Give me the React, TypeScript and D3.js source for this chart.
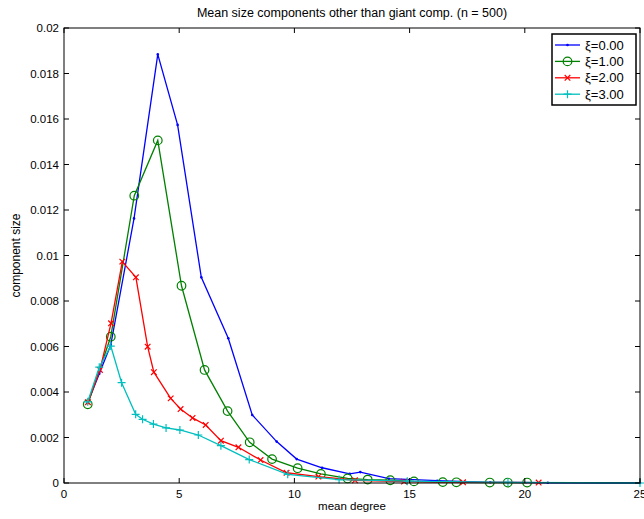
import React, { useEffect, useRef } from 'react';
import * as d3 from 'd3';

// mean degree (x) and component size (y)
const xi0X = [1.03, 1.53, 2.03, 3.04, 4.07, 4.93, 5.96, 7.13, 8.17, 9.23, 10.1, 11.2, 12.4, 12.86, 14.1, 16.2, 18.5, 21, 25];
const xi0Y = [0.00353, 0.0048, 0.00607, 0.01163, 0.01884, 0.01574, 0.00904, 0.00636, 0.00299, 0.00182, 0.00105, 0.00067, 0.0004, 0.00048, 0.00019, 0.0001, 0.00003, 0.00001, 0];

const xi1X = [1.03, 2.03, 3.05, 4.07, 5.1, 6.1, 7.1, 8.06, 9.03, 10.14, 11.15, 12.31, 13.18, 14.16, 15.19, 16.44, 17.03, 18.48, 19.26, 20.1];
const xi1Y = [0.00346, 0.00643, 0.01263, 0.01506, 0.00867, 0.00497, 0.00316, 0.00179, 0.00105, 0.00065, 0.0004, 0.0002, 0.00015, 0.00012, 0.00007, 0.00004, 0.00003, 0.00002, 0.00002, 0.00002];

const xi2X = [1.04, 1.56, 2.04, 2.53, 3.12, 3.63, 3.9, 4.63, 5.06, 5.58, 6.15, 6.81, 7.57, 8.53, 9.66, 11.04, 12.63, 14.76, 17.32, 20.6];
const xi2Y = [0.00355, 0.00497, 0.00702, 0.00973, 0.00904, 0.00599, 0.00487, 0.00372, 0.00325, 0.00286, 0.00255, 0.00186, 0.00157, 0.00101, 0.00045, 0.00028, 0.00012, 0.00006, 0.00003, 0.00002];

const xi3X = [1.03, 1.53, 2.03, 2.5, 3.11, 3.41, 3.88, 4.43, 5.03, 5.83, 6.81, 8.04, 9.71, 11.94, 14.9, 19.27, 25];
const xi3Y = [0.00357, 0.00509, 0.00602, 0.00441, 0.00302, 0.0028, 0.00259, 0.00242, 0.00233, 0.00211, 0.00164, 0.00103, 0.00038, 0.00015, 0.00008, 0.00003, 0];

const seriesNames = ['ξ=0.00', 'ξ=1.00', 'ξ=2.00', 'ξ=3.00'];
const seriesColors = ['#0000ff', '#008000', '#ff0000', '#00bfbf'];
const seriesMarkers = ['dot', 'circle', 'x', 'plus'];

const xTicks = [0, 5, 10, 15, 20, 25];
const yTicks = [0, 0.002, 0.004, 0.006, 0.008, 0.01, 0.012, 0.014, 0.016, 0.018, 0.02];

const App: React.FC = () => {
    const svgRef = useRef<SVGSVGElement>(null);

    useEffect(() => {
        if (!svgRef.current) return;
        const svg = d3.select(svgRef.current);
        svg.selectAll('*').remove();

        const left = 64, right = 640, top = 28, bottom = 483;
        const font = 'Liberation Sans, Arial, Helvetica, sans-serif';

        const x = d3.scaleLinear().domain([0, 25]).range([left, right]);
        const y = d3.scaleLinear().domain([0, 0.02]).range([bottom, top]);

        svg.append('rect')
            .attr('width', 644).attr('height', 519).attr('fill', 'white');

        const series = [
            { xs: xi0X, ys: xi0Y },
            { xs: xi1X, ys: xi1Y },
            { xs: xi2X, ys: xi2Y },
            { xs: xi3X, ys: xi3Y },
        ];

        const drawMarker = (g: any, type: string, cx: number, cy: number, color: string) => {
            if (type === 'dot') {
                g.append('circle').attr('cx', cx).attr('cy', cy).attr('r', 1.3).attr('fill', color);
            } else if (type === 'circle') {
                g.append('circle').attr('cx', cx).attr('cy', cy).attr('r', 4.3)
                    .attr('fill', 'none').attr('stroke', color).attr('stroke-width', 1.2);
            } else if (type === 'x') {
                const s = 2.8;
                g.append('path')
                    .attr('d', `M${cx - s},${cy - s}L${cx + s},${cy + s}M${cx - s},${cy + s}L${cx + s},${cy - s}`)
                    .attr('stroke', color).attr('stroke-width', 1.2);
            } else {
                const s = 4;
                g.append('path')
                    .attr('d', `M${cx - s},${cy}L${cx + s},${cy}M${cx},${cy - s}L${cx},${cy + s}`)
                    .attr('stroke', color).attr('stroke-width', 1.2);
            }
        };

        const line = d3.line<[number, number]>()
            .x(d => x(d[0]))
            .y(d => y(d[1]));

        const plot = svg.append('g');
        series.forEach((s, i) => {
            const pts: [number, number][] = s.xs.map((v, j) => [v, s.ys[j]]);
            plot.append('path')
                .attr('d', line(pts))
                .attr('fill', 'none')
                .attr('stroke', seriesColors[i])
                .attr('stroke-width', 1.3);
            pts.forEach(p => drawMarker(plot, seriesMarkers[i], x(p[0]), y(p[1]), seriesColors[i]));
        });

        // axes box with inward ticks
        const axes = svg.append('g');
        axes.append('rect')
            .attr('x', left).attr('y', top)
            .attr('width', right - left).attr('height', bottom - top)
            .attr('fill', 'none').attr('stroke', 'black').attr('stroke-width', 1);

        xTicks.forEach(t => {
            axes.append('line').attr('x1', x(t)).attr('x2', x(t)).attr('y1', bottom).attr('y2', bottom - 5)
                .attr('stroke', 'black');
            axes.append('line').attr('x1', x(t)).attr('x2', x(t)).attr('y1', top).attr('y2', top + 5)
                .attr('stroke', 'black');
            axes.append('text')
                .attr('x', x(t)).attr('y', bottom + 15)
                .attr('text-anchor', 'middle')
                .attr('font-family', font).attr('font-size', '11.5px')
                .text(t);
        });

        yTicks.forEach(t => {
            axes.append('line').attr('x1', left).attr('x2', left + 5).attr('y1', y(t)).attr('y2', y(t))
                .attr('stroke', 'black');
            axes.append('line').attr('x1', right).attr('x2', right - 5).attr('y1', y(t)).attr('y2', y(t))
                .attr('stroke', 'black');
            axes.append('text')
                .attr('x', left - 5).attr('y', y(t) + 4)
                .attr('text-anchor', 'end')
                .attr('font-family', font).attr('font-size', '11.5px')
                .text(String(t));
        });

        // title and axis labels
        svg.append('text')
            .attr('x', (left + right) / 2).attr('y', 17)
            .attr('text-anchor', 'middle')
            .attr('font-family', font).attr('font-size', '12.5px')
            .text('Mean size components other than giant comp. (n = 500)');

        svg.append('text')
            .attr('x', (left + right) / 2).attr('y', 510)
            .attr('text-anchor', 'middle')
            .attr('font-family', font).attr('font-size', '11.5px')
            .text('mean degree');

        svg.append('text')
            .attr('transform', `translate(20,${(top + bottom) / 2}) rotate(-90)`)
            .attr('text-anchor', 'middle')
            .attr('font-family', font).attr('font-size', '12px')
            .text('component size');

        // legend
        const lg = svg.append('g');
        lg.append('rect')
            .attr('x', 552).attr('y', 34).attr('width', 84).attr('height', 71)
            .attr('fill', 'white').attr('stroke', 'black').attr('stroke-width', 1.5);
        seriesNames.forEach((name, i) => {
            const ly = 45 + i * 16.4;
            lg.append('line').attr('x1', 555).attr('x2', 580).attr('y1', ly).attr('y2', ly)
                .attr('stroke', seriesColors[i]).attr('stroke-width', 1.3);
            drawMarker(lg, seriesMarkers[i], 567.5, ly, seriesColors[i]);
            lg.append('text')
                .attr('x', 585).attr('y', ly + 4.5)
                .attr('font-family', font).attr('font-size', '13px')
                .text(name);
        });
    }, []);

    return (
        <div style={{ position: 'fixed', left: 0, top: 0 }}>
            <svg ref={svgRef} width={644} height={519} style={{ display: 'block' }} />
        </div>
    );
};

export default App;
